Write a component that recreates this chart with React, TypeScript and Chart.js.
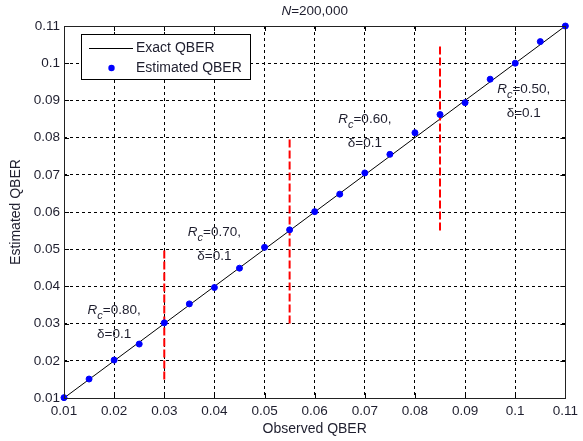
import React, { useEffect, useRef } from "react";
import { Chart, registerables } from "chart.js";

Chart.register(...registerables);

const observedQBER = [0.01, 0.015, 0.02, 0.025, 0.03, 0.035, 0.04, 0.045, 0.05, 0.055, 0.06, 0.065, 0.07, 0.075, 0.08, 0.085, 0.09, 0.095, 0.1, 0.105, 0.11];
const estimatedQBER = [0.0101, 0.0151, 0.0202, 0.0245, 0.0302, 0.0353, 0.0397, 0.0449, 0.0505, 0.0552, 0.0601, 0.0648, 0.0705, 0.0755, 0.0813, 0.0862, 0.0894, 0.0957, 0.1, 0.1058, 0.11];
const exactX = [0.01, 0.11];
const rangeX = [0.03, 0.055, 0.085];
const rangeLow = [0.015, 0.03, 0.055];
const rangeHigh = [0.05, 0.08, 0.105];
const xTicks = [0.01, 0.02, 0.03, 0.04, 0.05, 0.06, 0.07, 0.08, 0.09, 0.1, 0.11];
const yTicks = [0.01, 0.02, 0.03, 0.04, 0.05, 0.06, 0.07, 0.08, 0.09, 0.1, 0.11];
const annRc = ["0.80", "0.70", "0.60", "0.50"];
const annDelta = ["0.1", "0.1", "0.1", "0.1"];
const annX = [0.02, 0.04, 0.07, 0.1017];
const annY = [0.0294, 0.0503, 0.0807, 0.0888];
const titleN = "200,000";
const xTitle = "Observed QBER";
const yTitle = "Estimated QBER";
const legendLabels = ["Exact QBER", "Estimated QBER"];

const FONT = "'Liberation Sans', Arial, sans-serif";
const TXT = "#1e1e2e";

function fmt(v: number) {
  return String(Number(v.toFixed(4)));
}

const overlay = {
  id: "overlay",
  afterDraw(chart: any) {
    const ctx = chart.ctx as CanvasRenderingContext2D;
    const { left, right, top, bottom } = chart.chartArea;
    const xs = chart.scales.x;
    const ys = chart.scales.y;
    ctx.save();
    // inner ticks
    ctx.strokeStyle = "#000";
    ctx.lineWidth = 1;
    ctx.setLineDash([]);
    ctx.beginPath();
    xTicks.forEach((v) => {
      const px = Math.round(xs.getPixelForValue(v)) + 0.5;
      ctx.moveTo(px, bottom);
      ctx.lineTo(px, bottom - 5);
      ctx.moveTo(px, top);
      ctx.lineTo(px, top + 5);
    });
    yTicks.forEach((v) => {
      const py = Math.round(ys.getPixelForValue(v)) + 0.5;
      ctx.moveTo(left, py);
      ctx.lineTo(left + 5, py);
      ctx.moveTo(right, py);
      ctx.lineTo(right - 5, py);
    });
    ctx.stroke();
    // frame
    ctx.strokeStyle = "#222";
    ctx.strokeRect(Math.round(left) + 0.5, Math.round(top) + 0.5, Math.round(right - left), Math.round(bottom - top));

    // title
    ctx.fillStyle = TXT;
    ctx.textBaseline = "alphabetic";
    ctx.textAlign = "left";
    const cx = (left + right) / 2;
    ctx.font = `italic 13.5px ${FONT}`;
    const wN = ctx.measureText("N").width;
    ctx.font = `13.5px ${FONT}`;
    const wRest = ctx.measureText("=" + titleN).width;
    const tx = cx - (wN + wRest) / 2;
    ctx.font = `italic 13.5px ${FONT}`;
    ctx.fillText("N", tx, 15);
    ctx.font = `13.5px ${FONT}`;
    ctx.fillText("=" + titleN, tx + wN, 15);

    // axis titles
    ctx.font = `14px ${FONT}`;
    ctx.textAlign = "center";
    ctx.fillText(xTitle, cx, 433);
    ctx.save();
    ctx.translate(20, (top + bottom) / 2);
    ctx.rotate(-Math.PI / 2);
    ctx.fillText(yTitle, 0, 0);
    ctx.restore();

    // annotations
    ctx.textAlign = "left";
    annRc.forEach((rc, i) => {
      const ax = xs.getPixelForValue(annX[i]);
      const ay = ys.getPixelForValue(annY[i]);
      ctx.font = `italic 13.5px ${FONT}`;
      const wR = ctx.measureText("R").width;
      ctx.font = `italic 11px ${FONT}`;
      const wc = ctx.measureText("c").width;
      ctx.font = `13.5px ${FONT}`;
      const wr = ctx.measureText("=" + rc + ",").width;
      const w1 = wR + wc + wr;
      const x0 = ax - w1 / 2;
      const b1 = ay - 12;
      ctx.font = `italic 13.5px ${FONT}`;
      ctx.fillText("R", x0, b1);
      ctx.font = `italic 11px ${FONT}`;
      ctx.fillText("c", x0 + wR, b1 + 5);
      ctx.font = `13.5px ${FONT}`;
      ctx.fillText("=" + rc + ",", x0 + wR + wc, b1);
      const s2 = "\u03b4=" + annDelta[i];
      const w2 = ctx.measureText(s2).width;
      ctx.fillText(s2, ax - w2 / 2, ay + 12);
    });

    // legend
    ctx.fillStyle = "#fff";
    ctx.fillRect(81, 34, 170, 46);
    ctx.strokeStyle = "#000";
    ctx.strokeRect(81.5, 34.5, 169, 45);
    ctx.beginPath();
    ctx.moveTo(89, 48.5);
    ctx.lineTo(133, 48.5);
    ctx.stroke();
    ctx.fillStyle = "#0000ff";
    ctx.beginPath();
    ctx.arc(111.5, 68, 3.2, 0, Math.PI * 2);
    ctx.fill();
    ctx.fillStyle = TXT;
    ctx.textBaseline = "middle";
    ctx.font = `14px ${FONT}`;
    ctx.fillText(legendLabels[0], 136, 48.5);
    ctx.fillText(legendLabels[1], 136, 68.5);
    ctx.restore();
  },
};

export default function App() {
  const ref = useRef<HTMLCanvasElement | null>(null);
  useEffect(() => {
    if (!ref.current) return;
    const datasets: any[] = [
      {
        label: legendLabels[0],
        data: exactX.map((v) => ({ x: v, y: v })),
        borderColor: "#000",
        borderWidth: 1,
        pointRadius: 0,
        showLine: true,
        fill: false,
        order: 3,
      },
    ];
    rangeX.forEach((xv, i) => {
      datasets.push({
        label: "range" + i,
        data: [
          { x: xv, y: rangeLow[i] },
          { x: xv, y: rangeHigh[i] },
        ],
        borderColor: "#ff0000",
        borderWidth: 2,
        borderDash: [8, 3],
        pointRadius: 0,
        showLine: true,
        fill: false,
        order: 2,
      });
    });
    datasets.push({
      label: legendLabels[1],
      data: observedQBER.map((v, i) => ({ x: v, y: estimatedQBER[i] })),
      showLine: false,
      pointRadius: 3,
      pointBackgroundColor: "#0000ff",
      pointBorderColor: "#0000ff",
      pointBorderWidth: 1,
      order: 1,
      clip: false,
    });
    const tickFont = { family: FONT, size: 13.5 };
    const chart = new Chart(ref.current, {
      type: "scatter",
      data: { datasets },
      options: {
        animation: false,
        responsive: false,
        devicePixelRatio: 1,
        layout: { padding: { left: 0, top: 26, right: 14, bottom: 0 } },
        plugins: { legend: { display: false }, tooltip: { enabled: false }, title: { display: false } },
        scales: {
          x: {
            type: "linear",
            min: 0.01,
            max: 0.11,
            afterBuildTicks: (s: any) => {
              s.ticks = xTicks.map((v) => ({ value: v }));
            },
            afterFit: (s: any) => {
              s.height = 43;
            },
            ticks: { font: tickFont, color: TXT, padding: 5, maxRotation: 0, autoSkip: false, callback: (v: any) => fmt(Number(v)) },
            grid: { color: "#000", lineWidth: 1, drawTicks: false },
            border: { display: false, dash: [3, 3] },
          },
          y: {
            type: "linear",
            min: 0.01,
            max: 0.11,
            afterBuildTicks: (s: any) => {
              s.ticks = yTicks.map((v) => ({ value: v }));
            },
            afterFit: (s: any) => {
              s.width = 64;
            },
            ticks: { font: tickFont, color: TXT, padding: 4, autoSkip: false, callback: (v: any) => fmt(Number(v)) },
            grid: { color: "#000", lineWidth: 1, drawTicks: false },
            border: { display: false, dash: [3, 3] },
          },
        },
      },
      plugins: [overlay],
    } as any);
    return () => chart.destroy();
  }, []);
  return (
    <div style={{ position: "fixed", left: 0, top: 0, width: 583, height: 441, background: "#fff" }}>
      <canvas ref={ref} width={583} height={441} style={{ display: "block", width: 583, height: 441 }} />
    </div>
  );
}
